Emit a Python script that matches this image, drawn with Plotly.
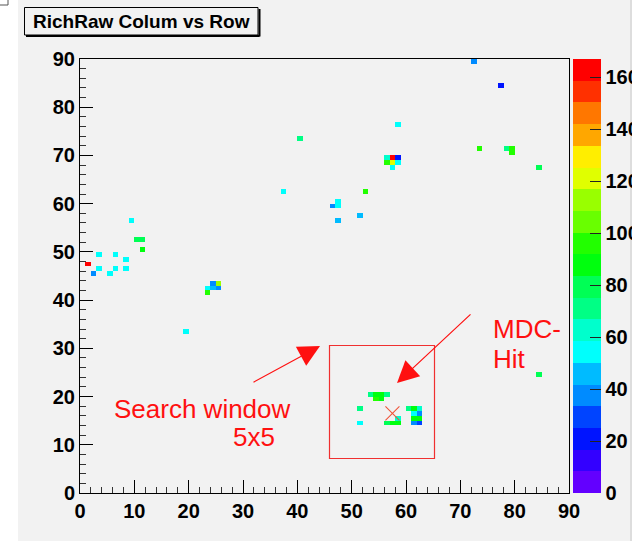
import colorsys
import numpy as np
import plotly.graph_objects as go

# ---------------- data (bin column, bin row, counts) ----------------
cols = [1, 2, 3, 6, 8, 3, 6, 8, 5, 10, 11, 11, 9, 19,
        23, 23, 24, 24, 25, 25,
        37, 40, 47, 47, 46, 47, 51, 52, 58,
        56, 57, 58, 56, 57, 58, 57,
        72, 77, 73, 78, 79, 79, 84, 84,
        53, 54, 55, 56, 54, 55, 51, 51,
        56, 57, 58, 58,
        60, 61, 62, 61, 62, 61, 62, 61, 62]
rows = [47, 45, 49, 49, 48, 46, 46, 46, 45, 52, 52, 50, 56, 33,
        42, 41, 43, 42, 43, 42,
        62, 73, 60, 59, 59, 56, 57, 62, 76,
        69, 69, 69, 68, 68, 68, 67,
        89, 84, 71, 71, 71, 70, 67, 24,
        20, 20, 20, 20, 19, 19, 17, 14,
        14, 14, 14, 15,
        17, 17, 17, 16, 16, 15, 15, 14, 14]
counts = [163, 40, 54, 54, 54, 54, 54, 54, 54, 82, 82, 90, 54, 54,
          54, 92, 37, 42, 110, 37,
          54, 70, 54, 54, 40, 45, 42, 92, 54,
          60, 163, 25, 92, 118, 56, 54,
          40, 25, 92, 70, 92, 95, 80, 80,
          75, 85, 88, 72, 92, 88, 72, 54,
          80, 85, 88, 62,
          70, 88, 60, 56, 40, 88, 90, 40, 28]
hit_x = [57.5]
hit_y = [16.5]
n_bins = 90
axis_ticks = list(range(0, 91, 10))
cbar_ticks = list(range(0, 161, 20))
z_max = 167
title_text = "RichRaw Colum vs Row"
label_window = ["Search window", "5x5"]
label_hit = ["MDC-", "Hit"]

# ---------------- geometry helpers ----------------
W, H = 632, 541
L, R, T, B = 80, 63, 59, 48
PW, PH = W - L - R, H - T - B
PAD = "#f2f2f2"
FONT = "Liberation Sans, Arial, Helvetica, sans-serif"


def fx(p):
    return (p - L) / PW


def fy(p):
    return (H - B - p) / PH


# ---------------- ROOT-like rainbow palette with 20 contours ----------------
n_levels = 20
colorscale = []
for i in range(n_levels):
    idx = int((i + 0.99) * 50 / n_levels)
    hue = 280 - (idx + 1) * 5.6
    r, g, b = colorsys.hls_to_rgb(max(hue, 0) / 360.0, 0.5, 1.0)
    c = f"rgb({round(r*255)},{round(g*255)},{round(b*255)})"
    colorscale.append([i / n_levels, c])
    colorscale.append([(i + 1) / n_levels, c])

z = [[None] * n_bins for _ in range(n_bins)]
for c, r, v in zip(cols, rows, counts):
    z[r][c] = v

edges = list(range(n_bins + 1))

fig = go.Figure()
fig.add_trace(go.Heatmap(
    z=z, x=edges, y=edges, zmin=0, zmax=z_max,
    colorscale=colorscale, hoverinfo="skip", zsmooth=False,
    colorbar=dict(
        x=fx(573), xanchor="left", xpad=0, ypad=0,
        y=0.5, yanchor="middle", len=1, lenmode="fraction",
        thickness=28, thicknessmode="pixels",
        outlinewidth=0,
        tickmode="array", tickvals=cbar_ticks,
        ticks="inside", ticklen=11, tickwidth=1, tickcolor="#222",
        tickfont=dict(family=FONT, size=20, color="black", weight="bold"),
    ),
))
fig.add_trace(go.Scatter(
    x=hit_x, y=hit_y, mode="markers", hoverinfo="skip",
    marker=dict(symbol="x-thin-open", size=14,
                line=dict(width=1.1, color="#a08484")),
))

axis_common = dict(
    range=[0, n_bins], showgrid=False, zeroline=False,
    showline=True, linecolor="black", linewidth=1, mirror=True,
    ticks="inside", ticklen=13, tickwidth=1, tickcolor="black",
    tickmode="array", tickvals=axis_ticks,
    minor=dict(dtick=2, tick0=0, ticks="inside", ticklen=6,
               tickwidth=1, tickcolor="#333"),
    tickfont=dict(family=FONT, size=20, color="black", weight="bold"),
    fixedrange=True,
)
fig.update_xaxes(**axis_common)
fig.update_yaxes(**axis_common)

shapes = [
    # white strip left of the pad
    dict(type="rect", xref="paper", yref="paper", layer="below",
         x0=fx(0), x1=fx(18), y0=fy(H), y1=fy(0),
         fillcolor="white", line=dict(width=0)),
    # pad border on the right
    dict(type="line", xref="paper", yref="paper",
         x0=fx(631), x1=fx(631), y0=fy(0), y1=fy(H),
         line=dict(color="#d6d6d6", width=1.5)),
    # tiny corner box
    dict(type="line", xref="paper", yref="paper",
         x0=fx(0), x1=fx(8), y0=fy(5), y1=fy(5),
         line=dict(color="#555", width=1)),
    dict(type="line", xref="paper", yref="paper",
         x0=fx(8), x1=fx(8), y0=fy(0), y1=fy(5),
         line=dict(color="#555", width=1)),
    # title box + shadow
    dict(type="rect", xref="paper", yref="paper",
         x0=fx(24.5), x1=fx(258), y0=fy(35), y1=fy(7.5),
         fillcolor=PAD, line=dict(color="black", width=1)),
    dict(type="line", xref="paper", yref="paper",
         x0=fx(26), x1=fx(259.5), y0=fy(36), y1=fy(36),
         line=dict(color="black", width=2)),
    dict(type="line", xref="paper", yref="paper",
         x0=fx(259.5), x1=fx(259.5), y0=fy(9), y1=fy(36.5),
         line=dict(color="black", width=2)),
    # search window rectangle
    dict(type="rect", xref="paper", yref="paper",
         x0=fx(329.5), x1=fx(434.5), y0=fy(458.5), y1=fy(345.5),
         line=dict(color="#f03030", width=1.2), fillcolor="rgba(0,0,0,0)"),
]

red = "#ff1010"
annotations = [
    dict(text=title_text, xref="paper", yref="paper",
         x=fx(141), y=fy(21.5), xanchor="center", yanchor="middle",
         showarrow=False,
         font=dict(family=FONT, size=19, color="black", weight="bold")),
    dict(text=label_window[0], xref="paper", yref="paper",
         x=fx(202.5), y=fy(409), xanchor="center", yanchor="middle",
         showarrow=False, font=dict(family=FONT, size=26, color=red)),
    dict(text=label_window[1], xref="paper", yref="paper",
         x=fx(254), y=fy(437), xanchor="center", yanchor="middle",
         showarrow=False, font=dict(family=FONT, size=26, color=red)),
    dict(text=label_hit[0], xref="paper", yref="paper",
         x=fx(491), y=fy(329), xanchor="left", yanchor="middle",
         showarrow=False, font=dict(family=FONT, size=26, color=red)),
    dict(text=label_hit[1], xref="paper", yref="paper",
         x=fx(491), y=fy(359), xanchor="left", yanchor="middle",
         showarrow=False, font=dict(family=FONT, size=26, color=red)),
    dict(text="", xref="paper", yref="paper", x=fx(320), y=fy(346),
         ax=252 - 320, ay=383 - 346, showarrow=True,
         arrowhead=2, arrowsize=3.6, arrowwidth=1.2, arrowcolor=red,
         standoff=0, startstandoff=0),
    dict(text="", xref="paper", yref="paper", x=fx(397), y=fy(383),
         ax=472 - 397, ay=313 - 383, showarrow=True,
         arrowhead=2, arrowsize=3.6, arrowwidth=1.2, arrowcolor=red,
         standoff=0, startstandoff=0),
]

fig.update_layout(
    width=W, height=H,
    margin=dict(l=L, r=R, t=T, b=B, pad=0, autoexpand=False),
    paper_bgcolor=PAD, plot_bgcolor=PAD,
    showlegend=False, shapes=shapes, annotations=annotations,
    font=dict(family=FONT),
)

fig.write_html("out.html")
